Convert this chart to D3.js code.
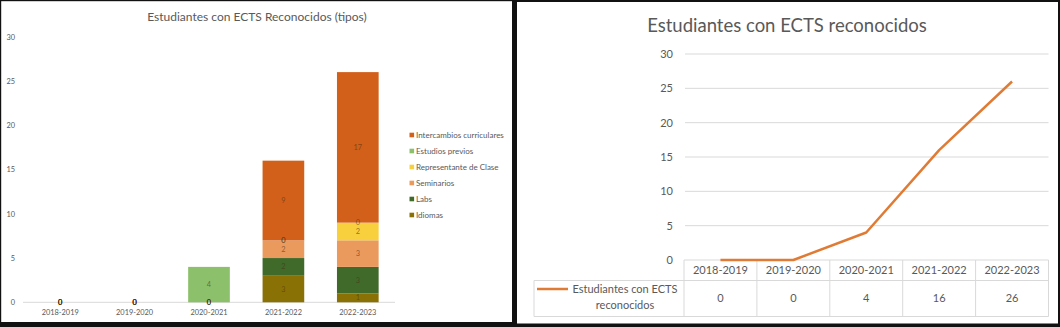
<!DOCTYPE html>
<html>
<head>
<meta charset="utf-8">
<script src="https://cdn.jsdelivr.net/npm/d3@7"></script>
<style>
  html, body { margin: 0; padding: 0; background: #fff; }
  svg { display: block; font-family: Lato, "Open Sans", sans-serif; }
</style>
</head>
<body>
<svg id="chart" width="1060" height="327"></svg>
<script>
// Academic years shared by both charts
const years = ["2018-2019", "2019-2020", "2020-2021", "2021-2022", "2022-2023"];

// Recognised-credit types (stacked, bottom to top); null = no label shown
const idiomas         = [0, 0, 0, 3, 1];
const labs            = [0, 0, 0, 2, 3];
const seminarios      = [0, 0, 0, 2, 3];
const representante   = [0, 0, 0, 0, 2];
const estudiosPrevios = [0, 0, 4, 0, 0];
const intercambios    = [0, 0, null, 9, 17];

const seriesNames  = ["Idiomas", "Labs", "Seminarios", "Representante de Clase", "Estudios previos", "Intercambios curriculares"];
const seriesValues = [idiomas, labs, seminarios, representante, estudiosPrevios, intercambios];
const seriesColors = ["#8a7106", "#3f6a2a", "#eb9a5e", "#f8cf3c", "#8dc06a", "#d2601a"];

// Totals per year
const totals = [0, 0, 4, 16, 26];
const totalLabel = "Estudiantes con ECTS reconocidos";

const yTicks = [0, 5, 10, 15, 20, 25, 30];

const svg = d3.select("#chart");
const grey = "#595959";

// ---------- Left: stacked bars ----------
const left = svg.append("g");
const yL = d3.scaleLinear().domain([0, 30]).range([302.3, 36.7]);
const xL = d3.scaleBand().domain(years).range([23, 395]).paddingInner(0.44).paddingOuter(0.22);

left.append("text")
  .attr("x", 257).attr("y", 20.8)
  .attr("text-anchor", "middle")
  .attr("font-size", 12).attr("fill", grey)
  .text("Estudiantes con ECTS Reconocidos (tipos)");

const yAxisL = left.append("g")
  .attr("transform", "translate(15,0)")
  .call(d3.axisLeft(yL).tickValues(yTicks).tickSize(0).tickPadding(0));
yAxisL.select(".domain").remove();
yAxisL.selectAll("text").attr("font-size", 7.4).attr("fill", grey).attr("font-family", "Lato, sans-serif");

left.append("line")
  .attr("x1", 23).attr("x2", 395)
  .attr("y1", yL(0)).attr("y2", yL(0))
  .attr("stroke", "#d9d9d9").attr("stroke-width", 1);

const xAxisL = left.append("g")
  .attr("transform", `translate(0,${yL(0)})`)
  .call(d3.axisBottom(xL).tickSize(0).tickPadding(7.5));
xAxisL.select(".domain").remove();
xAxisL.selectAll("text").attr("font-size", 7.4).attr("fill", grey).attr("font-family", "Lato, sans-serif");

// build stacked segments
const segments = [];
years.forEach((yr, i) => {
  let base = 0;
  seriesValues.forEach((vals, s) => {
    const v = vals[i];
    if (v === null) return;
    segments.push({ year: yr, s, y0: base, y1: base + v, v });
    base += v;
  });
});

left.append("g").selectAll("rect")
  .data(segments.filter(d => d.v > 0))
  .join("rect")
  .attr("x", d => xL(d.year))
  .attr("width", xL.bandwidth())
  .attr("y", d => yL(d.y1))
  .attr("height", d => yL(d.y0) - yL(d.y1))
  .attr("fill", d => seriesColors[d.s]);

left.append("g").selectAll("text")
  .data(segments)
  .join("text")
  .attr("x", d => xL(d.year) + xL.bandwidth() / 2)
  .attr("y", d => yL((d.y0 + d.y1) / 2))
  .attr("dy", "0.35em")
  .attr("text-anchor", "middle")
  .attr("font-size", 7.4)
  .attr("fill", "#4a3210")
  .attr("fill-opacity", 0.6)
  .text(d => d.v);

// legend, top item is the top of the stack
const legend = left.append("g");
const legendOrder = d3.range(seriesNames.length).reverse();
legendOrder.forEach((s, k) => {
  const ly = 135 + k * 16;
  legend.append("rect")
    .attr("x", 409.5).attr("y", ly - 2.3)
    .attr("width", 4.6).attr("height", 4.6)
    .attr("fill", seriesColors[s]);
  legend.append("text")
    .attr("x", 416).attr("y", ly)
    .attr("dy", "0.35em")
    .attr("font-size", 8).attr("fill", grey)
    .text(seriesNames[s]);
});

// ---------- Right: line with data table ----------
const right = svg.append("g");
const yR = d3.scaleLinear().domain([0, 30]).range([260, 54]);
const xR = d3.scaleBand().domain(years).range([684, 1048.5]).padding(0);
const cx = d => xR(d) + xR.bandwidth() / 2;

right.append("text")
  .attr("x", 787).attr("y", 32)
  .attr("text-anchor", "middle")
  .attr("font-size", 18.5).attr("fill", grey)
  .text(totalLabel);

right.append("g").selectAll("line")
  .data(yTicks.filter(t => t > 0))
  .join("line")
  .attr("x1", 685).attr("x2", 1048.5)
  .attr("y1", d => yR(d)).attr("y2", d => yR(d))
  .attr("stroke", "#d9d9d9").attr("stroke-width", 1);

const yAxisR = right.append("g")
  .attr("transform", "translate(673,0)")
  .call(d3.axisLeft(yR).tickValues(yTicks).tickSize(0).tickPadding(0));
yAxisR.select(".domain").remove();
yAxisR.selectAll("text").attr("font-size", 11).attr("fill", grey).attr("font-family", "Lato, sans-serif");

// data table grid
const tbl = right.append("g").attr("stroke", "#d9d9d9").attr("stroke-width", 1).attr("fill", "none");
const colEdges = years.map(y => xR(y)).concat([xR.range()[1]]);
const rowTop = yR(0), rowMid = 280.5, rowBot = 316.5, tblLeft = 534;
tbl.append("line").attr("x1", 684).attr("x2", 1048.5).attr("y1", rowTop).attr("y2", rowTop);
tbl.append("line").attr("x1", tblLeft).attr("x2", 1048.5).attr("y1", rowMid).attr("y2", rowMid);
tbl.append("line").attr("x1", tblLeft).attr("x2", 1048.5).attr("y1", rowBot).attr("y2", rowBot);
tbl.append("line").attr("x1", tblLeft).attr("x2", tblLeft).attr("y1", rowMid).attr("y2", rowBot);
tbl.selectAll(".v").data(colEdges).join("line")
  .attr("x1", d => d).attr("x2", d => d)
  .attr("y1", rowTop).attr("y2", rowBot);

right.append("g").selectAll("text")
  .data(years)
  .join("text")
  .attr("x", cx).attr("y", 270.5)
  .attr("dy", "0.35em")
  .attr("text-anchor", "middle")
  .attr("font-size", 11).attr("fill", grey)
  .text(d => d);

right.append("g").selectAll("text")
  .data(totals)
  .join("text")
  .attr("x", (d, i) => cx(years[i])).attr("y", 298.5)
  .attr("dy", "0.35em")
  .attr("text-anchor", "middle")
  .attr("font-size", 11).attr("fill", grey)
  .text(d => d);

// series key inside the table
right.append("line")
  .attr("x1", 537).attr("x2", 568)
  .attr("y1", 289).attr("y2", 289)
  .attr("stroke", "#e07b35").attr("stroke-width", 2.5);
right.append("text")
  .attr("x", 625).attr("y", 289.5).attr("dy", "0.35em")
  .attr("text-anchor", "middle").attr("font-size", 11).attr("fill", grey)
  .text("Estudiantes con ECTS");
right.append("text")
  .attr("x", 625).attr("y", 305.5).attr("dy", "0.35em")
  .attr("text-anchor", "middle").attr("font-size", 11).attr("fill", grey)
  .text("reconocidos");

right.append("path")
  .datum(totals)
  .attr("fill", "none")
  .attr("stroke", "#e07b35")
  .attr("stroke-width", 2.5)
  .attr("stroke-linejoin", "round")
  .attr("d", d3.line().x((d, i) => cx(years[i])).y(d => yR(d)));

// ---------- panel frames ----------
const frame = svg.append("g").attr("fill", "#111");
frame.append("rect").attr("x", 0).attr("y", 0).attr("width", 1.2).attr("height", 327);
frame.append("rect").attr("x", 0).attr("y", 0).attr("width", 515).attr("height", 1.2);
frame.append("rect").attr("x", 515).attr("y", 0).attr("width", 545).attr("height", 2);
frame.append("rect").attr("x", 512).attr("y", 0).attr("width", 5).attr("height", 327);
frame.append("rect").attr("x", 0).attr("y", 322).attr("width", 515).attr("height", 5);
frame.append("rect").attr("x", 515).attr("y", 323.5).attr("width", 545).attr("height", 3.5);
frame.append("rect").attr("x", 1058).attr("y", 0).attr("width", 2).attr("height", 327);
</script>
</body>
</html>
